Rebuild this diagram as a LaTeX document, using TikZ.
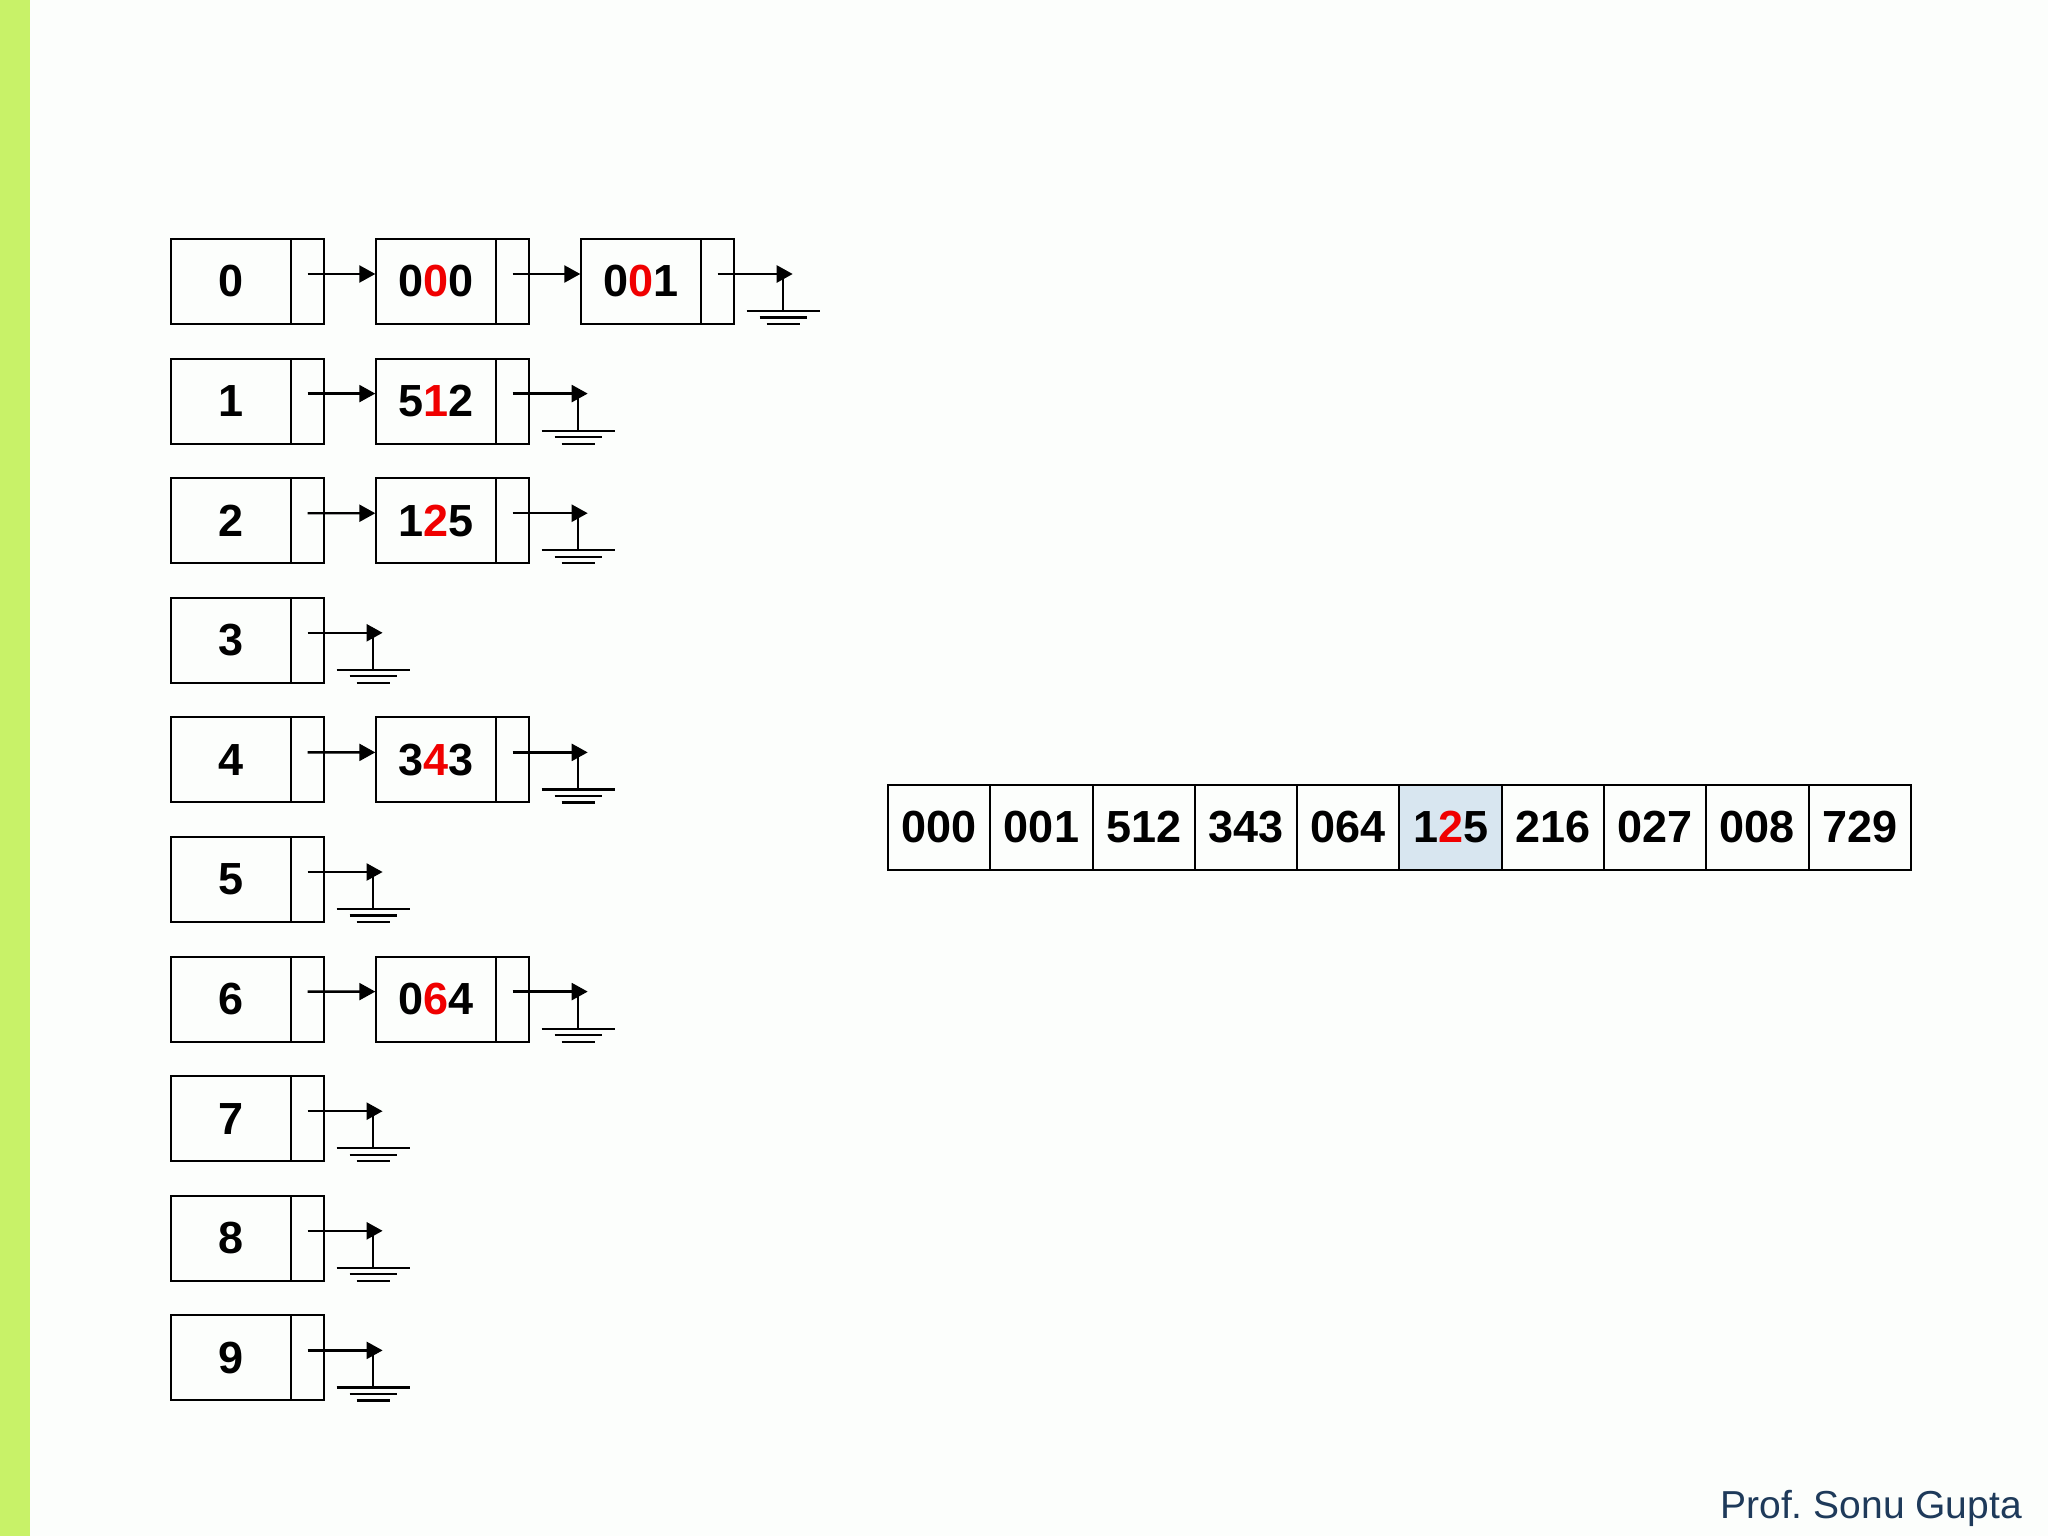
\documentclass[tikz,border=0pt]{standalone}
\usepackage{fontspec}
\setmainfont{Liberation Sans}
\usetikzlibrary{arrows.meta,calc}
\definecolor{bargreen}{RGB}{200,242,104}
\definecolor{bgc}{RGB}{252,254,252}
\definecolor{hlblue}{RGB}{216,230,240}
\definecolor{authorc}{RGB}{30,58,90}
\definecolor{digred}{RGB}{240,0,0}
\newcommand\rd[1]{{\color{digred}#1}}
\tikzset{
  cellbox/.style={draw, line width=2pt, minimum width=120pt, minimum height=85pt, inner sep=0pt,
    font=\fontsize{45}{50}\selectfont\bfseries},
  ptrbox/.style={draw, line width=2pt, minimum width=32.6pt, minimum height=85pt, inner sep=0pt},
  arrcell/.style={draw, line width=2pt, minimum width=102.27pt, minimum height=85pt, inner sep=0pt,
    font=\fontsize{45}{50}\selectfont\bfseries},
  ptr/.style={line width=2.4pt, -{Triangle[length=16pt,width=17pt]}},
  gnd/.style={line width=2.2pt}
}
\newcommand\groundmark[1]{%
  \draw[ptr] ($(#1.center)+(0,-7.5)$) -- ++(75,0);
  \draw[gnd] ($(#1.center)+(65,-7.5)$) -- ++(0,37);
  \draw[gnd] ($(#1.center)+(29,29.5)$) -- ++(73,0);
  \draw[gnd] ($(#1.center)+(42,36)$) -- ++(47,0);
  \draw[gnd] ($(#1.center)+(49,42.5)$) -- ++(33,0);
}
\newcommand\linkto[2]{%
  \draw[ptr] ($(#1.center)+(0,-7.5)$) -- ($(#2.west)+(0,-7.5)$);
}
\begin{document}
\begin{tikzpicture}[x=1pt,y=-1pt]
\useasboundingbox (0,0) rectangle (2048,1536);
\fill[bgc] (0,0) rectangle (2048,1536);
\fill[bargreen] (0,0) rectangle (30,1536);

% index column
\foreach \k in {0,...,9}{
  \node[cellbox] (i\k) at (231.2,{281.5+119.6*\k}) {\k};
  \node[ptrbox] (p\k) at (307.6,{281.5+119.6*\k}) {};
}

% second column
\node[cellbox] (a0) at (436.3,281.5) {0\rd{0}0};
\node[ptrbox] (ap0) at (512.7,281.5) {};
\node[cellbox] (a1) at (436.3,401.1) {5\rd{1}2};
\node[ptrbox] (ap1) at (512.7,401.1) {};
\node[cellbox] (a2) at (436.3,520.7) {1\rd{2}5};
\node[ptrbox] (ap2) at (512.7,520.7) {};
\node[cellbox] (a4) at (436.3,759.9) {3\rd{4}3};
\node[ptrbox] (ap4) at (512.7,759.9) {};
\node[cellbox] (a6) at (436.3,999.1) {0\rd{6}4};
\node[ptrbox] (ap6) at (512.7,999.1) {};

% third column
\node[cellbox] (b0) at (641.3,281.5) {0\rd{0}1};
\node[ptrbox] (bp0) at (717.7,281.5) {};

% links
\linkto{p0}{a0}
\linkto{ap0}{b0}
\linkto{p1}{a1}
\linkto{p2}{a2}
\linkto{p4}{a4}
\linkto{p6}{a6}

% null pointers
\groundmark{bp0}
\groundmark{ap1}
\groundmark{ap2}
\groundmark{ap4}
\groundmark{ap6}
\groundmark{p3}
\groundmark{p5}
\groundmark{p7}
\groundmark{p8}
\groundmark{p9}

% array
\foreach \v [count=\c from 0] in {000,001,512,343,064,X,216,027,008,729}{
  \ifnum\c=5
    \node[arrcell, fill=hlblue] (r\c) at ({888.1+102.27*(\c+0.5)},827.4) {1\rd{2}5};
  \else
    \node[arrcell] (r\c) at ({888.1+102.27*(\c+0.5)},827.4) {\v};
  \fi
}

\node[anchor=base east, text=authorc, font=\fontsize{39}{44}\selectfont, inner sep=0pt] (author) at (2022,1518) {Prof.\ Sonu Gupta};
\end{tikzpicture}
\end{document}
